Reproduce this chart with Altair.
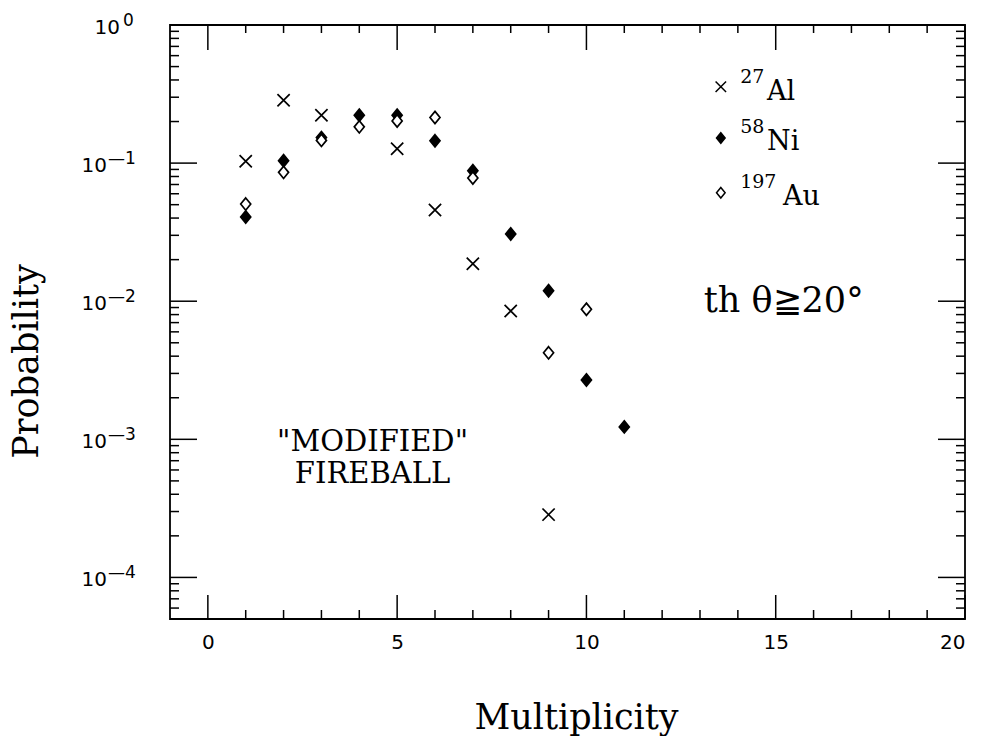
import altair as alt
import pandas as pd

# ---- data ----
mult_al = [1, 2, 3, 5, 6, 7, 8, 9]
prob_al = [0.103, 0.285, 0.222, 0.127, 0.0458, 0.0187, 0.0085, 0.000285]

mult_ni = [1, 2, 3, 4, 5, 6, 7, 8, 9, 10, 11]
prob_ni = [0.0407, 0.104, 0.153, 0.222, 0.222, 0.145, 0.088, 0.0307, 0.0119, 0.00269, 0.00123]

mult_au = [1, 2, 3, 4, 5, 6, 7, 9, 10]
prob_au = [0.0505, 0.0857, 0.146, 0.183, 0.202, 0.214, 0.078, 0.00423, 0.00875]

series_names = ["Al", "Ni", "Au"]
series_mass = ["27", "58", "197"]

x_tick_values = list(range(0, 21))
x_label_values = [0, 5, 10, 15, 20]
y_decades = [-4, -3, -2, -1, 0]
y_exp_labels = ["—4", "—3", "—2", "—1", "0"]
y_minor_mult = [2, 3, 4, 5, 6, 7, 8, 9]
y_minor_decades = [-5, -4, -3, -2, -1]

# legend placement (data units)
leg_sym_x = [13.55, 13.55, 13.55]
leg_sym_y = [0.357, 0.152, 0.061]
leg_sup_x = [14.06, 14.06, 14.06]
leg_sup_y = [0.380, 0.165, 0.066]
leg_name_x = [14.77, 14.77, 15.19]
leg_name_y = [0.286, 0.124, 0.0497]

note_x = [4.35, 4.35]
note_y = [0.000956, 0.000565]
note_text = ['"MODIFIED"', "FIREBALL"]

cut_x = [13.1]
cut_y = [0.0100]
cut_text = ["th θ≧20°"]

X_DOMAIN = [-1, 20]
Y_DOMAIN = [5e-5, 1]
W, H = 795, 594
SERIF = "DejaVu Serif"
SANS = "DejaVu Sans"

# ---- tables ----
pts = pd.DataFrame({
    "mult": mult_al + mult_ni + mult_au,
    "prob": prob_al + prob_ni + prob_au,
    "nucleus": [series_names[0]] * len(mult_al)
    + [series_names[1]] * len(mult_ni)
    + [series_names[2]] * len(mult_au),
})
leg_sym = pd.DataFrame({"mult": leg_sym_x, "prob": leg_sym_y, "nucleus": series_names})
leg_sup = pd.DataFrame({"mult": leg_sup_x, "prob": leg_sup_y, "t": series_mass})
leg_name = pd.DataFrame({"mult": leg_name_x, "prob": leg_name_y, "t": series_names})

xticks = pd.DataFrame({"mult": x_tick_values,
                       "major": [v % 5 == 0 for v in x_tick_values]})
y_major = pd.DataFrame({"prob": [10.0 ** e for e in y_decades],
                        "exp": y_decades, "t": y_exp_labels})
y_minor_vals = [m * 10.0 ** e for e in y_minor_decades for m in y_minor_mult]
y_minor_vals = [v for v in y_minor_vals if Y_DOMAIN[0] <= v <= Y_DOMAIN[1]]
y_minor = pd.DataFrame({"prob": y_minor_vals})

notes = pd.DataFrame({"mult": note_x, "prob": note_y, "t": note_text})
cut = pd.DataFrame({"mult": cut_x, "prob": cut_y, "t": cut_text})

xs = alt.Scale(domain=X_DOMAIN, nice=False, zero=False)
ys = alt.Scale(type="log", domain=Y_DOMAIN, nice=False)

x_axis = alt.Axis(values=x_label_values, ticks=False, tickSize=0, domain=False, grid=False,
                  labelFont=SANS, labelFontSize=20, labelPadding=13,
                  labelColor="black", title="Multiplicity", titleFont=SERIF,
                  titleFontSize=35, titleFontWeight="normal", titleColor="black",
                  titleX=406, titleY=109, titleAlign="center",
                  titleBaseline="alphabetic")
y_axis = alt.Axis(values=[10.0 ** e for e in y_decades], labels=False,
                  ticks=False, tickSize=0, domain=False, grid=False,
                  title="Probability", titleFont=SERIF,
                  titleFontSize=35, titleFontWeight="normal", titleColor="black",
                  titleX=-133, titleY=336, titleAngle=-90, titleAlign="center",
                  titleBaseline="alphabetic")

X = alt.X("mult:Q", scale=xs, axis=x_axis, title="Multiplicity")
Y = alt.Y("prob:Q", scale=ys, axis=y_axis, title="Probability")

cross_path = "M-1,-1L1,1M-1,1L1,-1"
diamond_path = "M0,-1L0.82,0L0,1L-0.82,0Z"

shape_enc = alt.Shape("nucleus:N", scale=alt.Scale(domain=series_names,
                      range=[cross_path, diamond_path, diamond_path]), legend=None)
fill_enc = alt.Fill("nucleus:N", scale=alt.Scale(domain=series_names,
                    range=["transparent", "black", "white"]), legend=None)

points = alt.Chart(pts).mark_point(stroke="black", strokeWidth=1.7, opacity=1,
                                   fillOpacity=1, size=150).encode(
    x=X, y=Y, shape=shape_enc, fill=fill_enc)

legend_pts = alt.Chart(leg_sym).mark_point(stroke="black", strokeWidth=1.5, opacity=1,
                                           fillOpacity=1, size=110).encode(
    x=X, y=Y, shape=shape_enc, fill=fill_enc)

legend_sup = alt.Chart(leg_sup).mark_text(font=SERIF, fontSize=19, align="left",
                                          baseline="alphabetic", color="black").encode(
    x=X, y=Y, text="t:N")
legend_name = alt.Chart(leg_name).mark_text(font=SERIF, fontSize=27, align="left",
                                            baseline="alphabetic", color="black").encode(
    x=X, y=Y, text="t:N")

# y-axis decade labels: "10" with a raised exponent
y_neg = y_major[y_major.exp < 0]
y_zero = y_major[y_major.exp == 0]


def ybase(df, px):
    return alt.Chart(df).mark_text(font=SANS, fontSize=20, align="right",
                                   baseline="middle", dy=3, color="black").encode(
        y=Y, x=alt.value(px), text=alt.value("10"))


def yexp(df, px):
    return alt.Chart(df).mark_text(font=SANS, fontSize=17, align="left",
                                   baseline="alphabetic", dy=1, color="black").encode(
        y=Y, x=alt.value(px), text="t:N")


ylabels = [ybase(y_neg, -63), yexp(y_neg, -62), ybase(y_zero, -50), yexp(y_zero, -47)]

rule_style = dict(color="black", strokeWidth=1.5)
xt_major = xticks[xticks.major]
xt_minor = xticks[~xticks.major]


def xrule(df, y0, y1):
    return alt.Chart(df).mark_rule(**rule_style).encode(
        x=X, y=alt.value(y0), y2=alt.value(y1))


def yrule(df, x0, x1):
    return alt.Chart(df).mark_rule(**rule_style).encode(
        y=Y, x=alt.value(x0), x2=alt.value(x1))


ticks = [
    xrule(xt_major, H, H - 24), xrule(xt_minor, H, H - 9),
    xrule(xt_major, 0, 25), xrule(xt_minor, 0, 8),
    yrule(y_major, 0, 27), yrule(y_minor, 0, 9),
    yrule(y_major, W, W - 27), yrule(y_minor, W, W - 9),
]

note_layer = alt.Chart(notes).mark_text(font=SERIF, fontSize=29, align="center",
                                        baseline="middle", color="black").encode(
    x=X, y=Y, text="t:N")

cut_layer = alt.Chart(cut).mark_text(font=SERIF, fontSize=35, align="left",
                                     baseline="middle", color="black").encode(
    x=X, y=Y, text="t:N")

chart = alt.layer(points, *ticks, *ylabels, legend_pts, legend_sup, legend_name,
                  note_layer, cut_layer).properties(
    width=W, height=H,
    autosize=alt.AutoSizeParams(type="none"),
    padding={"left": 170, "top": 25, "right": 17, "bottom": 117},
    background="white",
).configure_view(stroke="black", strokeWidth=1.8)

chart.save("out.html", embed_options={"renderer": "svg", "actions": False})
